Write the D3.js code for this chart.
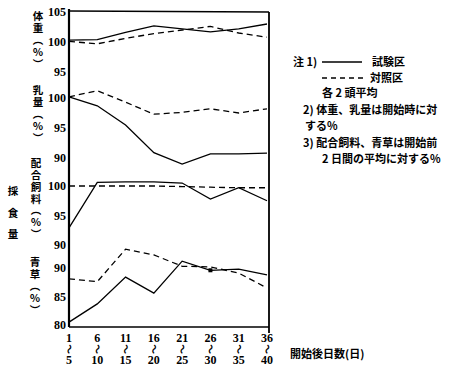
<!DOCTYPE html>
<meta charset="utf-8">
<style>
body { margin: 0; background: #fff; }
* { font-family: "Noto Sans CJK JP", sans-serif; }
.num { font-family: "Liberation Serif", serif; font-weight: bold; font-size: 12px; }
.jp { font-weight: bold; font-size: 11px; }
.vt { font-weight: bold; font-size: 10.5px; writing-mode: vertical-rl; }
</style>
<body>
<script src="https://cdn.jsdelivr.net/npm/d3@7"></script>
<script>
// periods (days from start)
var periodStart = ["1", "6", "11", "16", "21", "26", "31", "36"];
var periodEnd = ["5", "10", "15", "20", "25", "30", "35", "40"];

// body weight (%)
var weightTest = [100.3, 100.4, 101.6, 102.7, 102.2, 101.7, 102.2, 103.0];
var weightCtrl = [100.1, 99.7, 100.6, 101.4, 102.0, 102.6, 101.5, 100.8];
// milk yield (%)
var milkTest = [100.2, 98.7, 95.5, 90.9, 89.0, 90.7, 90.7, 90.8];
var milkCtrl = [100.2, 101.2, 99.3, 97.3, 97.6, 98.2, 97.5, 98.2];
// concentrate intake (%)
var feedTest = [92.9, 100.6, 100.7, 100.7, 100.5, 97.8, 99.7, 97.5];
var feedCtrl = [100.0, 100.0, 100.0, 100.0, 99.9, 99.8, 99.7, 99.7];
// green grass intake (%)
var hayTest = [80.5, 83.7, 88.4, 85.6, 91.2, 89.6, 89.8, 88.8];
var hayCtrl = [88.1, 87.6, 93.3, 92.3, 90.3, 90.2, 89.1, 86.5];

var ticksW = [95, 100, 105];
var ticksM = [90, 95, 100];
var ticksF = [90, 95, 100];
var ticksH = [80, 85, 90];

var svg = d3.select("body").append("svg")
    .attr("width", 461)
    .attr("height", 373);

var left = 69, right = 269, bottom = 327;

var x = d3.scalePoint().domain(d3.range(8)).range([left, 267]);

var yW = d3.scaleLinear().domain([95, 105]).range([72, 12]);
var yM = d3.scaleLinear().domain([90, 100]).range([158, 98]);
var yF = d3.scaleLinear().domain([90, 100]).range([245, 186]);
var yH = d3.scaleLinear().domain([80, 90]).range([325, 268]);

var panels = [
  {y: yW, ticks: ticksW, test: weightTest, ctrl: weightCtrl},
  {y: yM, ticks: ticksM, test: milkTest, ctrl: milkCtrl},
  {y: yF, ticks: ticksF, test: feedTest, ctrl: feedCtrl},
  {y: yH, ticks: ticksH, test: hayTest, ctrl: hayCtrl}
];

// frame
svg.append("line").attr("x1", left).attr("x2", left).attr("y1", 9).attr("y2", bottom)
    .attr("stroke", "#000").attr("stroke-width", 2.2);
svg.append("line").attr("x1", left).attr("x2", right).attr("y1", 11).attr("y2", 12)
    .attr("stroke", "#000").attr("stroke-width", 1.6);
svg.append("line").attr("x1", right).attr("x2", right).attr("y1", 12).attr("y2", 333)
    .attr("stroke", "#000").attr("stroke-width", 1.8);
svg.append("line").attr("x1", left).attr("x2", right).attr("y1", bottom).attr("y2", bottom)
    .attr("stroke", "#000").attr("stroke-width", 1.6);

panels.forEach(function(p) {
  var ax = svg.append("g")
      .attr("transform", "translate(" + left + ",0)")
      .call(d3.axisLeft(p.y).tickValues(p.ticks).tickSize(0).tickPadding(3));
  ax.select(".domain").remove();
  ax.selectAll("text").attr("class", "num").attr("fill", "#000");

  var line = d3.line()
      .x(function(d, i) { return x(i); })
      .y(function(d) { return p.y(d); });

  svg.append("path").datum(p.test)
      .attr("d", line).attr("fill", "none")
      .attr("stroke", "#000").attr("stroke-width", 1.3);
  svg.append("path").datum(p.ctrl)
      .attr("d", line).attr("fill", "none")
      .attr("stroke", "#000").attr("stroke-width", 1.3)
      .attr("stroke-dasharray", "6,4");
});

// small square on the grass line at day 26
svg.append("rect")
    .attr("x", x(5) - 2).attr("y", yH(hayTest[5]) - 2)
    .attr("width", 4).attr("height", 4).attr("fill", "#000");

// x tick labels: start / wave dash / end
var xl = svg.append("g");
periodStart.forEach(function(s, i) {
  xl.append("text").attr("class", "num").attr("x", x(i)).attr("y", 342)
      .attr("text-anchor", "middle").text(s);
  xl.append("text")
      .attr("transform", "translate(" + x(i) + ",349) rotate(100)")
      .attr("text-anchor", "middle").attr("dy", "0.35em")
      .style("font-size", "10px").style("font-weight", "bold").text("〜");
  xl.append("text").attr("class", "num").attr("x", x(i)).attr("y", 364)
      .attr("text-anchor", "middle").text(periodEnd[i]);
});
svg.append("text").attr("class", "jp").attr("x", 290).attr("y", 358).text("開始後日数(日)");

// vertical axis titles
function vtext(str, xPos, yTop, spacing) {
  svg.append("text").attr("class", "vt")
      .attr("x", xPos).attr("y", yTop)
      .style("letter-spacing", spacing + "px")
      .text(str);
}
vtext("体重（％）", 38, 11, 1.5);
vtext("乳量（％）", 38, 85, 1.5);
vtext("配合飼料（％）", 36, 158, 1.3);
vtext("青草（％）", 35, 257, 1.5);
vtext("採食量", 13, 186, 11);

// notes / legend
svg.append("text").attr("class", "jp").attr("x", 293).attr("y", 66).text("注 1)");
svg.append("line").attr("x1", 322).attr("x2", 362).attr("y1", 62).attr("y2", 62)
    .attr("stroke", "#000").attr("stroke-width", 1.3);
svg.append("text").attr("class", "jp").attr("x", 372).attr("y", 66).text("試験区");
svg.append("line").attr("x1", 322).attr("x2", 364).attr("y1", 78).attr("y2", 78)
    .attr("stroke", "#000").attr("stroke-width", 1.3).attr("stroke-dasharray", "5,4");
svg.append("text").attr("class", "jp").attr("x", 370).attr("y", 82).text("対照区");
svg.append("text").attr("class", "jp").attr("x", 322).attr("y", 97).text("各 2 頭平均");
svg.append("text").attr("class", "jp").attr("x", 303).attr("y", 114).text("2) 体重、乳量は開始時に対");
svg.append("text").attr("class", "jp").attr("x", 305).attr("y", 130).text("する%");
svg.append("text").attr("class", "jp").attr("x", 303).attr("y", 147).text("3) 配合飼料、青草は開始前");
svg.append("text").attr("class", "jp").attr("x", 322).attr("y", 163).text("2 日間の平均に対する%");
</script>
</body>
</html>
